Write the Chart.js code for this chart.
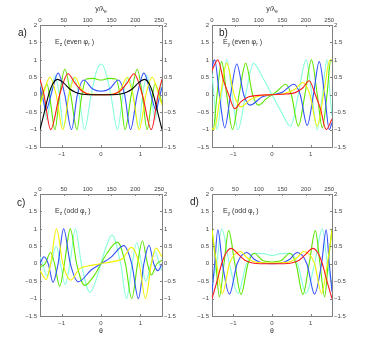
<!DOCTYPE html>
<html lang="en">
<head>
<meta charset="UTF-8">
<title>Field profiles</title>
<script src="https://cdn.jsdelivr.net/npm/chart.js"></script>
<style>
  body { margin: 0; background: #fff; }
  #wrap { position: relative; width: 373px; height: 357px; font-family: "Liberation Sans", Arial, sans-serif; color: #333; }
  canvas { position: absolute; }
  .lbl { position: absolute; font-size: 10px; color: #222; line-height: 10px; }
  .note { position: absolute; font-size: 7px; line-height: 8px; white-space: nowrap; color: #333; }
  .note sub { font-size: 5px; vertical-align: -2px; }
  .ax { position: absolute; font-size: 7px; line-height: 8px; white-space: nowrap; color: #333; transform: translateX(-50%); }
  .ax sub { font-size: 5px; vertical-align: -2px; }
</style>
</head>
<body>
<div id="wrap">
  <canvas id="pa" width="186" height="178" style="left:0;top:0"></canvas>
  <canvas id="pb" width="187" height="178" style="left:186px;top:0"></canvas>
  <canvas id="pc" width="186" height="179" style="left:0;top:178px"></canvas>
  <canvas id="pd" width="187" height="179" style="left:186px;top:178px"></canvas>

  <div class="ax" style="left:101px;top:5px">y/λ<sub>e</sub></div>
  <div class="ax" style="left:272px;top:5px">y/λ<sub>e</sub></div>
  <div class="ax" style="left:101px;top:327px">θ</div>
  <div class="ax" style="left:272px;top:327px">θ</div>

  <div class="lbl" style="left:18px;top:28px">a)</div>
  <div class="lbl" style="left:219px;top:28px">b)</div>
  <div class="lbl" style="left:17px;top:198px">c)</div>
  <div class="lbl" style="left:190px;top:197px">d)</div>

  <div class="note" style="left:55px;top:38px">E<sub>z</sub> (even φ<sub>r</sub> )</div>
  <div class="note" style="left:223px;top:38px">E<sub>y</sub> (even φ<sub>r</sub> )</div>
  <div class="note" style="left:55px;top:207px">E<sub>z</sub> (odd φ<sub>r</sub> )</div>
  <div class="note" style="left:223px;top:207px">E<sub>y</sub> (odd φ<sub>r</sub> )</div>
</div>
<script>
// axis ranges and ticks
const thetaRange = [-1.55, 1.55];
const yLambdaRange = [0, 256];
const ampRange = [-1.5, 2];
const thetaTicks = [-1, 0, 1];
const yLambdaTicks = [0, 50, 100, 150, 200, 250];
const ampTicks = [-1.5, -1, -0.5, 0, 0.5, 1, 1.5, 2];

// a) Ez, even phi_r  [theta, field]
const aBlack = [[-1.55,-1],[-1.45,-0.55],[-1.33,0],[-1.22,0.32],[-1.1,0.44],[-0.95,0.34],[-0.8,0.17],[-0.65,0.07],[-0.5,0.02],[-0.3,0],[0,0],[0.3,0],[0.5,0.02],[0.65,0.07],[0.8,0.17],[0.95,0.34],[1.1,0.44],[1.22,0.32],[1.33,0],[1.45,-0.55],[1.55,-1]];
const aRed = [[-1.55,0.45],[-1.45,0],[-1.28,-1],[-1.05,0],[-0.84,0.6],[-0.66,0.33],[-0.5,0.12],[-0.35,0.03],[-0.2,0],[0,0],[0.2,0],[0.35,0.03],[0.5,0.12],[0.66,0.33],[0.84,0.6],[1.05,0],[1.28,-1],[1.45,0],[1.55,0.45]];
const aYellow = [[-1.55,-0.3],[-1.43,0.15],[-1.3,0.5],[-1.14,0],[-0.97,-1],[-0.81,0],[-0.66,0.5],[-0.52,0.2],[-0.4,0.05],[-0.2,0.01],[0,0],[0.2,0.01],[0.4,0.05],[0.52,0.2],[0.66,0.5],[0.81,0],[0.97,-1],[1.14,0],[1.3,0.5],[1.43,0.15],[1.55,-0.3]];
const aBlue = [[-1.55,0.22],[-1.47,-0.15],[-1.4,-0.45],[-1.27,0],[-1.09,0.62],[-0.92,0],[-0.75,-1],[-0.6,0],[-0.44,0.42],[-0.22,0.17],[0,0.1],[0.22,0.17],[0.44,0.42],[0.6,0],[0.75,-1],[0.92,0],[1.09,0.62],[1.27,0],[1.4,-0.45],[1.47,-0.15],[1.55,0.22]];
const aGreen = [[-1.55,-0.25],[-1.46,0.1],[-1.37,0.3],[-1.28,-0.25],[-1.17,-1],[-1.05,0],[-0.92,0.73],[-0.77,0],[-0.61,-1],[-0.5,-0.1],[-0.38,0.45],[-0.2,0.47],[0,0.42],[0.2,0.47],[0.38,0.45],[0.5,-0.1],[0.61,-1],[0.77,0],[0.92,0.73],[1.05,0],[1.17,-1],[1.28,-0.25],[1.37,0.3],[1.46,0.1],[1.55,-0.25]];
const aCyan = [[-1.55,0.35],[-1.47,0],[-1.38,-0.7],[-1.27,0],[-1.17,0.55],[-1.06,0],[-0.95,-0.95],[-0.82,0],[-0.7,0.5],[-0.56,0],[-0.42,-1],[-0.25,0],[-0.12,0.65],[0,0.88],[0.12,0.65],[0.25,0],[0.42,-1],[0.56,0],[0.7,0.5],[0.82,0],[0.95,-0.95],[1.06,0],[1.17,0.55],[1.27,0],[1.38,-0.7],[1.47,0],[1.55,0.35]];

// b) Ey, even phi_r
const bRed = [[-1.55,0.7],[-1.4,1],[-1.25,0.4],[-1.12,0],[-0.96,-0.4],[-0.8,-0.2],[-0.6,-0.06],[-0.35,-0.02],[0,0],[0.35,0.02],[0.6,0.06],[0.8,0.2],[0.96,0.4],[1.12,0],[1.25,-0.4],[1.4,-1],[1.55,-0.7]];
const bYellow = [[-1.55,-0.95],[-1.5,-1],[-1.33,0],[-1.17,0.9],[-0.98,0],[-0.8,-0.35],[-0.58,-0.15],[-0.3,-0.03],[0,0],[0.3,0.03],[0.58,0.15],[0.8,0.35],[0.98,0],[1.17,-0.9],[1.33,0],[1.5,1],[1.55,0.95]];
const bBlue = [[-1.55,0.8],[-1.48,1],[-1.36,0],[-1.22,-0.95],[-1.07,0],[-0.91,0.88],[-0.73,0],[-0.57,-0.3],[-0.25,-0.06],[0,0],[0.25,0.06],[0.57,0.3],[0.73,0],[0.91,-0.88],[1.07,0],[1.22,0.95],[1.36,0],[1.48,-1],[1.55,-0.8]];
const bGreen = [[-1.55,-0.97],[-1.52,-1],[-1.42,0],[-1.3,0.95],[-1.17,0],[-1.02,-1],[-0.85,0],[-0.68,0.9],[-0.5,0],[-0.35,-0.3],[-0.15,-0.12],[0,0],[0.15,0.12],[0.35,0.3],[0.5,0],[0.68,-0.9],[0.85,0],[1.02,1],[1.17,0],[1.3,-0.95],[1.42,0],[1.52,1],[1.55,0.97]];
const bCyan = [[-1.55,0.6],[-1.5,0],[-1.42,-1],[-1.3,0],[-1.17,1],[-1.03,0],[-0.88,-1],[-0.68,0],[-0.48,0.9],[-0.22,0.45],[0,0],[0.22,-0.45],[0.48,-0.9],[0.68,0],[0.88,1],[1.03,0],[1.17,-1],[1.3,0],[1.42,1],[1.5,0],[1.55,-0.6]];

// c) Ez, odd phi_r
const cYellow = [[-1.55,-0.2],[-1.39,-0.45],[-1.28,0],[-1.13,1],[-0.97,0],[-0.77,-0.47],[-0.55,-0.15],[-0.3,-0.06],[0,0],[0.3,0.06],[0.55,0.15],[0.77,0.47],[0.97,0],[1.13,-1],[1.28,0],[1.39,0.45],[1.55,0.2]];
const cBlue = [[-1.55,0],[-1.45,0.2],[-1.34,0],[-1.22,-0.53],[-1.09,0],[-0.95,1],[-0.78,0],[-0.58,-0.52],[-0.25,-0.18],[0,0],[0.25,0.18],[0.58,0.52],[0.78,0],[0.95,-1],[1.09,0],[1.22,0.53],[1.34,0],[1.45,-0.2],[1.55,0]];
const cGreen = [[-1.55,-0.1],[-1.42,0],[-1.28,0.32],[-1.18,0],[-1.05,-0.65],[-0.93,0],[-0.78,1],[-0.62,0],[-0.42,-0.62],[-0.15,-0.3],[0,0],[0.15,0.3],[0.42,0.62],[0.62,0],[0.78,-1],[0.93,0],[1.05,0.65],[1.18,0],[1.28,-0.32],[1.42,0],[1.55,0.1]];
const cCyan = [[-1.55,0.2],[-1.48,0],[-1.38,-0.35],[-1.27,0],[-1.14,0.5],[-1.03,0],[-0.91,-0.6],[-0.79,0],[-0.65,1],[-0.5,0],[-0.28,-0.82],[-0.12,-0.45],[0,0],[0.12,0.45],[0.28,0.82],[0.5,0],[0.65,-1],[0.79,0],[0.91,0.6],[1.03,0],[1.14,-0.5],[1.27,0],[1.38,0.35],[1.48,0],[1.55,-0.2]];

// d) Ey, odd phi_r
const dRed = [[-1.55,-1],[-1.42,-0.5],[-1.3,0],[-1.18,0.32],[-1.05,0.44],[-0.88,0.28],[-0.7,0.1],[-0.5,0.02],[-0.3,0],[0,0],[0.3,0],[0.5,0.02],[0.7,0.1],[0.88,0.28],[1.05,0.44],[1.18,0.32],[1.3,0],[1.42,-0.5],[1.55,-1]];
const dYellow = [[-1.55,0.95],[-1.43,0],[-1.28,-0.85],[-1.1,0],[-0.82,0.35],[-0.62,0.15],[-0.4,0.04],[0,0.02],[0.4,0.04],[0.62,0.15],[0.82,0.35],[1.1,0],[1.28,-0.85],[1.43,0],[1.55,0.95]];
const dBlue = [[-1.55,-0.8],[-1.48,0],[-1.4,0.97],[-1.28,0],[-1.1,-0.87],[-0.9,0],[-0.65,0.32],[-0.45,0.12],[-0.25,0.02],[0,0],[0.25,0.02],[0.45,0.12],[0.65,0.32],[0.9,0],[1.1,-0.87],[1.28,0],[1.4,0.97],[1.48,0],[1.55,-0.8]];
const dGreen = [[-1.55,1],[-1.45,0],[-1.36,-0.95],[-1.24,0],[-1.12,0.95],[-0.96,0],[-0.8,-0.88],[-0.62,0],[-0.46,0.3],[-0.25,0.1],[0,0.05],[0.25,0.1],[0.46,0.3],[0.62,0],[0.8,-0.88],[0.96,0],[1.12,0.95],[1.24,0],[1.36,-0.95],[1.45,0],[1.55,1]];
const dCyan = [[-1.55,-0.6],[-1.43,0],[-1.3,1],[-1.1,0],[-0.88,-0.85],[-0.66,0],[-0.46,0.3],[-0.22,0.29],[0,0.24],[0.22,0.29],[0.46,0.3],[0.66,0],[0.88,-0.85],[1.1,0],[1.3,1],[1.43,0],[1.55,-0.6]];

const COL = { black: '#000000', red: '#ff1a1a', blue: '#3350ff', yellow: '#f2f200', green: '#5ee600', cyan: '#86ffdc' };
const tickFont = { family: 'Liberation Sans', size: 6 };
const frame = '#808080';

const ds = (arr, color) => ({
  data: arr.map(([x, y]) => ({ x, y })),
  borderColor: color,
  borderWidth: 1.1,
  pointRadius: 0,
  fill: false,
  cubicInterpolationMode: 'monotone'
});

const fmt = v => (v < 0 ? '\u2212' + Math.abs(v) : String(v));

// inward tick marks, MATLAB style
const innerTicks = {
  id: 'innerTicks',
  afterDraw(chart) {
    const { ctx, chartArea: a } = chart;
    ctx.save();
    ctx.strokeStyle = frame;
    ctx.lineWidth = 1;
    ['x', 'x2', 'y', 'y2'].forEach(id => {
      const s = chart.scales[id];
      s.ticks.forEach(t => {
        const p = Math.round(s.getPixelForValue(t.value)) + 0.5;
        ctx.beginPath();
        if (id === 'x') { ctx.moveTo(p, a.bottom); ctx.lineTo(p, a.bottom - 2); }
        if (id === 'x2') { ctx.moveTo(p, a.top); ctx.lineTo(p, a.top + 2); }
        if (id === 'y') { ctx.moveTo(a.left, p); ctx.lineTo(a.left + 2, p); }
        if (id === 'y2') { ctx.moveTo(a.right, p); ctx.lineTo(a.right - 2, p); }
        ctx.stroke();
      });
    });
    ctx.restore();
  }
};

function makePanel(id, sets, box) {
  const fixed = list => s => { s.ticks = list.map(v => ({ value: v })); };
  const tk = pad => ({ font: tickFont, color: '#444', padding: pad, autoSkip: false, maxRotation: 0, callback: fmt });
  const grid = { display: false, drawTicks: false };
  new Chart(document.getElementById(id), {
    type: 'line',
    data: { datasets: sets },
    plugins: [innerTicks],
    options: {
      responsive: false,
      animation: false,
      layout: { padding: 0 },
      plugins: { legend: { display: false }, tooltip: { enabled: false } },
      scales: {
        x: {
          type: 'linear', position: 'bottom', min: thetaRange[0], max: thetaRange[1],
          afterBuildTicks: fixed(thetaTicks), ticks: tk(4),
          grid, border: { color: frame },
          afterFit: s => { s.height = box.bottom; }
        },
        x2: {
          type: 'linear', position: 'top', min: yLambdaRange[0], max: yLambdaRange[1],
          afterBuildTicks: fixed(yLambdaTicks), ticks: tk(1),
          grid, border: { color: frame },
          afterFit: s => { s.height = box.top; }
        },
        y: {
          type: 'linear', position: 'left', min: ampRange[0], max: ampRange[1],
          afterBuildTicks: fixed(ampTicks), ticks: tk(3),
          grid, border: { color: frame },
          afterFit: s => { s.width = box.left; }
        },
        y2: {
          type: 'linear', position: 'right', min: ampRange[0], max: ampRange[1],
          afterBuildTicks: fixed(ampTicks), ticks: tk(2),
          grid, border: { color: frame },
          afterFit: s => { s.width = box.right; }
        }
      }
    }
  });
}

makePanel('pa', [ds(aBlack, COL.black), ds(aRed, COL.red), ds(aYellow, COL.yellow), ds(aBlue, COL.blue), ds(aGreen, COL.green), ds(aCyan, COL.cyan)],
  { left: 40, right: 24, top: 25, bottom: 31 });
makePanel('pb', [ds(bRed, COL.red), ds(bYellow, COL.yellow), ds(bBlue, COL.blue), ds(bGreen, COL.green), ds(bCyan, COL.cyan)],
  { left: 26, right: 41, top: 25, bottom: 31 });
makePanel('pc', [ds(cYellow, COL.yellow), ds(cBlue, COL.blue), ds(cGreen, COL.green), ds(cCyan, COL.cyan)],
  { left: 40, right: 24, top: 16, bottom: 41 });
makePanel('pd', [ds(dRed, COL.red), ds(dYellow, COL.yellow), ds(dBlue, COL.blue), ds(dGreen, COL.green), ds(dCyan, COL.cyan)],
  { left: 26, right: 41, top: 16, bottom: 41 });
</script>
</body>
</html>
